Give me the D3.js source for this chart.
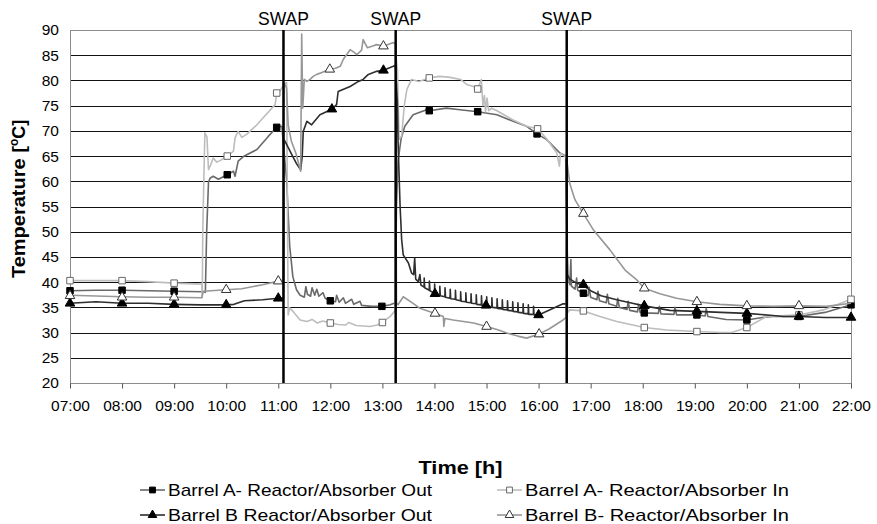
<!DOCTYPE html>
<html>
<head>
<meta charset="utf-8">
<script src="https://d3js.org/d3.v7.min.js"></script>
<style>
  body { margin: 0; background: #fff; }
  text { font-family: "Liberation Sans", Arial, sans-serif; }
</style>
</head>
<body>
<div id="chart"></div>
<script>
// time in decimal hours, temperature in degC
const aOutLine = [
  [7.0,38.3],[7.5,38.4],[8.0,38.4],[8.5,38.3],[9.0,38.2],[9.55,38.1],[9.6,38.0],[9.625,50],[9.66,59.8],[9.69,60.6],
  [9.75,61.0],[9.85,60.4],[10.02,61.3],[10.14,62.0],[10.17,61.0],[10.23,64.0],[10.33,64.9],[10.59,66.3],[10.8,68.8],
  [10.97,70.7],[11.07,70.9],
  [11.11,66],[11.16,60.3],[11.22,47.1],[11.28,41.1],[11.35,38.5],[11.42,37.4],[11.5,37.0],[11.53,39.1],[11.56,37.6],
  [11.62,37.2],[11.65,38.9],[11.7,37.4],[11.74,38.6],[11.78,37.2],[11.86,37.9],[11.9,36.8],[12.0,36.3],[12.1,36.1],
  [12.12,37.4],[12.17,36.0],[12.25,36.9],[12.29,35.8],[12.41,36.6],[12.45,35.6],[12.57,36.2],[12.6,35.4],[12.8,35.2],
  [12.99,35.2],[13.15,35.5],[13.25,35.9],
  [13.27,55],[13.3,64],[13.36,68.5],[13.43,70.9],[13.59,73.2],[13.85,74.2],[13.9,74.0],[14.23,74.5],[14.49,74.2],
  [14.83,73.8],[15.2,73.2],[15.51,71.9],[15.77,70.9],[15.97,69.4],[16.15,68.3],[16.41,65.6],[16.52,65.0],
  [16.55,45.8],[16.57,40.5],[16.6,39.5],[16.62,44.5],[16.63,39.2],[16.7,38.6],[16.73,40.8],[16.75,38.4],[16.86,37.8],
  [16.95,37.3],[16.97,39.0],[17.0,37.0],[17.12,36.5],[17.14,38.2],[17.17,36.3],[17.3,35.9],[17.32,37.6],[17.35,35.7],
  [17.5,35.2],[17.52,36.8],[17.55,35.0],[17.7,34.6],[17.72,36.2],[17.75,34.4],[17.9,34.1],[17.92,35.6],[17.95,34.0],
  [18.03,33.9],[18.3,33.8],[18.32,35.2],[18.35,33.7],[18.6,33.6],[18.62,35.0],[18.65,33.5],[19.04,33.5],[19.2,33.3],
  [19.22,34.8],[19.25,33.2],[19.6,32.6],[20.0,32.5],[20.3,33.0],[20.5,33.2],[21.0,33.2],[21.5,34.0],[22.0,35.5]
];
const aOutMarks = [[7,38.3],[8,38.4],[9,38.2],[10.02,61.3],[10.97,70.7],[12.0,36.3],[12.99,35.2],[13.9,74.0],
  [14.83,73.8],[15.97,69.4],[16.86,37.8],[18.03,33.9],[19.04,33.5],[20.0,32.5],[21.0,33.2],[22.0,35.5]];

const aInLine = [
  [7.0,40.3],[8.0,40.3],[8.5,40.1],[9.0,39.8],[9.53,39.6],[9.54,37.0],[9.55,50],[9.57,60],[9.59,69.6],[9.63,68.8],
  [9.66,62.3],[9.7,63.2],[9.75,64.6],[9.82,63.8],[9.9,64.2],[10.02,65.0],[10.14,66.0],[10.17,68.6],[10.23,69.9],
  [10.3,68.7],[10.39,69.3],[10.59,71.2],[10.71,72.6],[10.94,75.2],[10.97,77.5],[11.03,77.9],[11.13,79.5],[11.16,79.6],
  [11.19,33.5],[11.22,34.9],[11.3,34.0],[11.42,32.5],[11.55,32.2],[11.65,32.6],[11.75,31.9],[11.85,32.3],[12.0,31.9],
  [12.15,31.6],[12.3,31.5],[12.35,32.0],[12.5,31.4],[12.76,31.2],[12.9,31.5],[13.0,32.0],[13.15,33.2],[13.24,34.3],
  [13.26,85],[13.29,82],[13.32,68.3],[13.37,69],[13.42,75],[13.47,78.2],[13.56,80.2],[13.7,79.8],[13.9,80.5],
  [14.1,80.8],[14.3,80.6],[14.5,80.2],[14.62,79.2],[14.75,78.8],[14.83,78.3],[14.9,80.2],[14.93,75],[14.96,77],
  [14.98,73.8],[15.01,76.5],[15.04,74.0],[15.1,74.5],[15.2,74.0],[15.5,72.2],[15.77,70.9],[15.98,70.4],[16.15,68.5],
  [16.35,65.6],[16.4,63],[16.42,65.5],[16.5,65.0],
  [16.54,64.5],[16.56,34.0],[16.6,34.5],[16.86,34.3],[17.18,33.2],[17.5,32.2],[18.03,31.0],[18.46,30.5],[19.04,30.2],
  [19.5,30.0],[19.71,30.0],[20.0,31.0],[20.38,33.2],[21.0,33.5],[21.47,34.5],[22.0,36.6]
];
const aInMarks = [[7,40.3],[8,40.3],[9,39.8],[10.02,65.0],[10.97,77.5],[12.0,31.9],[13.0,32.0],[13.9,80.5],
  [14.83,78.3],[15.98,70.4],[16.86,34.3],[18.03,31.0],[19.04,30.2],[20.0,31.0],[21.0,33.5],[22.0,36.6]];

const bOutLine = [
  [7.0,35.8],[7.5,36.1],[8.0,35.8],[8.5,35.8],[9.0,35.6],[9.5,35.5],[10.0,35.5],[10.15,35.6],[10.35,36.3],[10.7,36.5],
  [11.0,36.8],[11.1,36.8],
  [11.11,68.3],[11.16,67.3],[11.25,65.5],[11.35,63.5],[11.43,62.3],[11.46,65],[11.48,69.9],[11.55,71.9],[11.64,71.2],
  [11.8,73.2],[12.03,74.3],[12.12,75.2],[12.15,77.8],[12.38,78.8],[12.54,79.8],[12.63,80.2],[12.73,81.2],[12.89,81.8],
  [13.02,82.0],[13.21,82.8],[13.25,83.0],
  [13.29,75],[13.3,68],[13.34,55],[13.37,48.4],[13.4,45.4],[13.5,43.8],[13.56,41.8],[13.6,41.5],[13.62,44.8],
  [13.64,40.6],[13.69,40.1],[13.72,41.5],[13.74,39.4],
  [13.8,39.0],[13.803,40.8],[13.812,38.9],[13.9,38.4],[13.903,40.2],[13.912,38.3],[14.0,37.8],[14.003,39.6],[14.012,37.7],
  [14.1,37.4],[14.103,39.2],[14.112,37.3],[14.2,37.1],[14.203,38.9],[14.212,37.0],[14.3,36.8],[14.303,38.6],[14.312,36.7],
  [14.4,36.6],[14.403,38.4],[14.412,36.5],[14.5,36.3],[14.503,38.1],[14.512,36.2],[14.6,36.1],[14.603,37.9],[14.612,36.0],
  [14.7,35.9],[14.703,37.7],[14.712,35.8],[14.8,35.7],[14.803,37.5],[14.812,35.6],[14.9,35.5],[14.903,37.3],[14.912,35.4],
  [15.0,35.4],[15.003,37.1],[15.012,35.2],[15.1,35.1],[15.103,36.9],[15.112,35.0],[15.2,34.9],[15.203,36.7],[15.212,34.8],
  [15.3,34.7],[15.303,36.5],[15.312,34.6],[15.4,34.5],[15.403,36.3],[15.412,34.4],[15.5,34.3],[15.503,36.1],[15.512,34.2],
  [15.6,34.1],[15.603,35.9],[15.612,34.0],[15.7,33.9],[15.703,35.7],[15.712,33.8],[15.8,33.7],[15.803,35.5],[15.812,33.6],
  [15.9,33.6],[15.903,35.2],[15.912,33.5],[16.0,33.5],[16.47,35.7],[16.54,35.7],
  [16.55,41.5],[16.6,40.6],[16.7,40.0],[16.86,39.3],[17.0,38.3],[17.2,37.3],[17.5,36.5],[17.8,35.8],[18.03,35.3],
  [18.3,34.8],[18.52,34.4],[19.04,34.2],[19.5,34.0],[20.0,33.8],[20.5,33.4],[20.7,33.2],[21.0,33.2],[21.5,33.0],[22.0,33.0]
];
const bOutMarks = [[7,35.8],[8,35.8],[9,35.6],[10,35.5],[11,36.8],[12.03,74.3],[13.02,82.0],[14.01,37.7],[14.99,35.4],
  [16.0,33.5],[16.86,39.5],[18.03,35.3],[19.04,34.3],[20.0,33.8],[21.0,33.2],[22.0,33.0]];

const bInLine = [
  [7.0,37.4],[8.0,37.1],[8.5,37.0],[9.0,37.0],[9.53,36.9],[9.56,38.2],[10.0,38.5],[10.3,38.7],[10.7,39.5],[11.0,40.2],
  [11.1,40.4],
  [11.11,79.5],[11.16,78.5],[11.19,71.2],[11.25,68],[11.34,65.5],[11.43,62.0],[11.45,89.2],[11.47,74.5],[11.5,80.2],
  [11.55,79.8],[11.61,80.2],[11.67,80.8],[11.74,81.2],[11.85,81.6],[11.99,82.2],[12.1,82.4],[12.19,82.8],[12.25,84.2],
  [12.38,86.1],[12.45,85.6],[12.51,85.1],[12.6,86],[12.63,88.1],[12.71,86.5],[12.8,86.8],[12.89,87.1],[13.02,86.8],
  [13.21,87.5],[13.25,87.2],
  [13.27,36],[13.3,35.5],[13.4,37.1],[13.59,35.8],[13.72,34.8],[14.01,33.8],[14.17,33.2],[14.18,31.2],[14.2,32.8],
  [14.36,32.5],[14.75,31.9],[15.0,31.2],[15.2,30.6],[15.39,29.9],[15.6,29.3],[15.77,28.9],[16.01,29.7],[16.2,30.7],
  [16.47,32.5],[16.53,33.0],
  [16.55,63.5],[16.6,59.5],[16.7,56.3],[16.86,53.6],[17.05,50.4],[17.37,46.4],[17.66,42.4],[17.88,40.5],[18.03,38.8],
  [18.33,37.7],[18.65,36.8],[19.04,36.1],[19.48,35.6],[20.0,35.3],[20.51,35.2],[21.0,35.3],[21.53,35.2],[22.0,35.8]
];
const bInMarks = [[7,37.3],[8,37.0],[9,37.0],[10,38.5],[11,40.2],[11.99,82.2],[13.02,86.8],[14.01,33.8],[15.0,31.2],
  [16.01,29.7],[16.86,53.6],[18.03,38.8],[19.04,36.1],[20.0,35.3],[21.0,35.3]];

const seriesNames = ["Barrel A- Reactor/Absorber Out", "Barrel A- Reactor/Absorber In",
  "Barrel B Reactor/Absorber Out", "Barrel B- Reactor/Absorber In"];
const hourTicks = [7, 8, 9, 10, 11, 12, 13, 14, 15, 16, 17, 18, 19, 20, 21, 22];
const tempTicks = [20, 25, 30, 35, 40, 45, 50, 55, 60, 65, 70, 75, 80, 85, 90];
const swapTimes = [11.1, 13.255, 16.54];

let width = 877, height = 524;
let margin = { top: 30, right: 26, bottom: 141, left: 70 };

let svg = d3.select("#chart")
  .append("svg")
  .attr("width", width)
  .attr("height", height);

let xscale = d3.scaleLinear()
  .domain([7, 22])
  .range([margin.left, width - margin.right]);

let yscale = d3.scaleLinear()
  .domain([20, 90])
  .range([height - margin.bottom, margin.top]);

// horizontal grid lines
svg.append("g")
  .selectAll("line")
  .data(tempTicks.slice(1, -1))
  .join("line")
  .attr("x1", margin.left)
  .attr("x2", width - margin.right)
  .attr("y1", d => Math.round(yscale(d)) + 0.5)
  .attr("y2", d => Math.round(yscale(d)) + 0.5)
  .attr("stroke", "#111")
  .attr("stroke-width", 1);

// plot frame
svg.append("rect")
  .attr("x", margin.left + 0.5)
  .attr("y", Math.round(yscale(90)) + 0.5)
  .attr("width", width - margin.right - margin.left)
  .attr("height", Math.round(yscale(20)) - Math.round(yscale(90)))
  .attr("fill", "none")
  .attr("stroke", "#8c8c8c");

let yaxis = svg.append("g")
  .attr("transform", `translate(${margin.left},0)`)
  .call(d3.axisLeft(yscale).tickValues(tempTicks).tickSize(0).tickPadding(11));
yaxis.select(".domain").remove();
yaxis.selectAll("text")
  .attr("font-size", 15.5)
  .attr("fill", "#000")
  .style("font-family", "'Liberation Sans', Arial, sans-serif");

let xaxis = svg.append("g")
  .attr("transform", `translate(0, ${Math.round(yscale(20)) + 0.5})`)
  .call(d3.axisBottom(xscale)
    .tickValues(hourTicks)
    .tickSize(5)
    .tickPadding(11)
    .tickFormat(h => String(h).padStart(2, "0") + ":00"));
xaxis.select(".domain").remove();
xaxis.selectAll("line").attr("stroke", "#555");
xaxis.selectAll("text")
  .attr("font-size", 15.5)
  .attr("fill", "#000")
  .style("font-family", "'Liberation Sans', Arial, sans-serif");

const series = [
  { name: seriesNames[0], line: aOutLine, marks: aOutMarks, color: "#6a6a6a", shape: d3.symbolSquare, size: 42, fill: "#000", stroke: "#000" },
  { name: seriesNames[1], line: aInLine, marks: aInMarks, color: "#bdbdbd", shape: d3.symbolSquare, size: 42, fill: "#fff", stroke: "#666" },
  { name: seriesNames[2], line: bOutLine, marks: bOutMarks, color: "#2e2e2e", shape: d3.symbolTriangle, size: 40, fill: "#000", stroke: "#000" },
  { name: seriesNames[3], line: bInLine, marks: bInMarks, color: "#979797", shape: d3.symbolTriangle, size: 40, fill: "#fff", stroke: "#333" }
];

let line = d3.line()
  .x(d => xscale(d[0]))
  .y(d => yscale(d[1]));

series.forEach(function (s) {
  svg.append("path")
    .datum(s.line)
    .attr("d", line)
    .attr("fill", "none")
    .attr("stroke", s.color)
    .attr("stroke-width", 1.6)
    .attr("stroke-linejoin", "round");

  svg.append("g")
    .selectAll("path")
    .data(s.marks)
    .join("path")
    .attr("d", d3.symbol().type(s.shape).size(s.size))
    .attr("transform", d => `translate(${xscale(d[0])},${yscale(d[1])})`)
    .attr("fill", s.fill)
    .attr("stroke", s.stroke)
    .attr("stroke-width", 1);
});

// swap markers
swapTimes.forEach(function (t) {
  svg.append("line")
    .attr("x1", xscale(t))
    .attr("x2", xscale(t))
    .attr("y1", yscale(90))
    .attr("y2", yscale(20))
    .attr("stroke", "#000")
    .attr("stroke-width", 2.5);

  svg.append("text")
    .attr("x", xscale(t))
    .attr("y", 25)
    .attr("text-anchor", "middle")
    .attr("font-size", 17.5)
    .text("SWAP");
});

// axis titles
svg.append("text")
  .attr("x", (margin.left + width - margin.right) / 2)
  .attr("y", 474)
  .attr("text-anchor", "middle")
  .attr("font-size", 18)
  .attr("font-weight", "bold")
  .attr("textLength", 84)
  .attr("lengthAdjust", "spacingAndGlyphs")
  .text("Time [h]");

let ytitle = svg.append("text")
  .attr("transform", `translate(25, ${yscale(56.5)}) rotate(-90)`)
  .attr("text-anchor", "middle")
  .attr("font-size", 18)
  .attr("font-weight", "bold");
ytitle.append("tspan").attr("textLength", 132).attr("lengthAdjust", "spacingAndGlyphs").text("Temperature [");
ytitle.append("tspan").attr("font-size", 12).attr("dy", -7).text("o");
ytitle.append("tspan").attr("dy", 7).text("C]");

// legend, two columns by two rows
const legendPos = [[140, 490], [497, 490], [140, 515], [497, 515]];
series.forEach(function (s, i) {
  let [lx, ly] = legendPos[i];
  let g = svg.append("g").attr("transform", `translate(${lx},${ly})`);
  g.append("line")
    .attr("x1", 0).attr("x2", 25)
    .attr("y1", 0).attr("y2", 0)
    .attr("stroke", s.color)
    .attr("stroke-width", 1.6);
  g.append("path")
    .attr("d", d3.symbol().type(s.shape).size(s.size * 0.8))
    .attr("transform", "translate(12.5,0)")
    .attr("fill", s.fill)
    .attr("stroke", s.stroke);
  g.append("text")
    .attr("x", 28)
    .attr("y", 6)
    .attr("font-size", 17)
    .attr("textLength", 264)
    .attr("lengthAdjust", "spacingAndGlyphs")
    .text(s.name);
});
</script>
</body>
</html>
